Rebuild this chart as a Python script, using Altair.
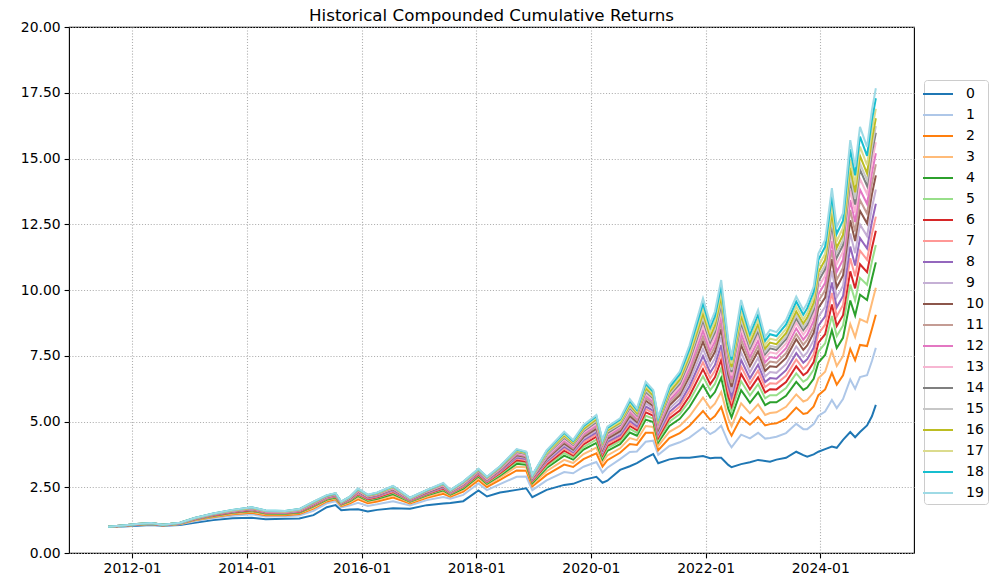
import altair as alt
import pandas as pd

dates = ["2011-08-01","2011-11-01","2012-02-01","2012-05-01","2012-07-15","2012-11-01","2013-02-01","2013-06-01","2013-10-01","2014-02-01",
         "2014-05-01","2014-09-01","2014-12-01","2015-03-01","2015-05-25","2015-07-20","2015-08-25","2015-10-20","2015-12-10","2016-02-10",
         "2016-04-10","2016-07-20","2016-11-05","2017-02-20","2017-06-05","2017-07-20","2017-10-10","2018-01-15","2018-03-10","2018-06-01",
         "2018-09-15","2018-11-15","2018-12-24","2019-03-25","2019-07-15","2019-09-10","2019-11-15","2020-02-05","2020-03-15","2020-04-15",
         "2020-07-05","2020-09-05","2020-10-20","2020-12-15","2021-02-01","2021-03-05","2021-05-15","2021-07-20","2021-09-20","2021-12-15",
         "2022-01-30","2022-03-01","2022-04-10","2022-05-25","2022-06-15","2022-08-15","2022-10-10","2022-12-01","2023-01-15","2023-02-15",
         "2023-03-28","2023-05-28","2023-08-01","2023-09-15","2023-10-10","2023-11-20","2023-12-20","2024-02-01","2024-03-15","2024-04-15",
         "2024-05-25","2024-07-10","2024-08-10","2024-09-10","2024-10-25","2024-11-25","2024-12-20"]

s0 = [1.00,1.01,1.04,1.06,1.04,1.06,1.15,1.25,1.32,1.34, 1.28,1.30,1.31,1.44,1.74,1.82,1.63,1.65,1.66,1.58,
      1.64,1.70,1.68,1.82,1.88,1.90,1.97,2.38,2.15,2.30, 2.40,2.46,2.12,2.40,2.59,2.63,2.78,2.90,2.67,2.75,
      3.16,3.30,3.42,3.62,3.76,3.41,3.56,3.62,3.62,3.69, 3.60,3.62,3.62,3.35,3.26,3.38,3.45,3.54,3.50,3.47,
      3.55,3.62,3.85,3.72,3.66,3.75,3.85,3.95,4.05,4.00, 4.30,4.60,4.40,4.60,4.85,5.20,5.63]
s1 = [1.00,1.02,1.06,1.09,1.05,1.09,1.21,1.33,1.42,1.47, 1.39,1.40,1.43,1.60,1.89,1.97,1.73,1.81,1.91,1.79,
      1.85,1.97,1.81,2.01,2.13,2.06,2.21,2.64,2.39,2.62, 2.90,2.91,2.39,2.76,3.08,3.03,3.28,3.46,3.06,3.24,
      3.57,3.84,3.86,4.23,4.27,3.73,4.07,4.21,4.39,4.77, 4.52,4.62,4.84,4.21,4.02,4.50,4.36,4.57,4.35,4.37,
      4.42,4.56,4.91,4.71,4.71,4.90,5.21,5.38,5.82,5.51, 5.85,6.60,6.25,6.69,6.76,7.30,7.80]
s2 = [1.00,1.03,1.07,1.10,1.05,1.10,1.24,1.37,1.47,1.53, 1.44,1.44,1.48,1.69,1.96,2.04,1.78,1.89,2.04,1.89,
      1.96,2.11,1.88,2.10,2.25,2.14,2.33,2.77,2.51,2.78, 3.14,3.13,2.53,2.97,3.36,3.27,3.57,3.79,3.29,3.53,
      3.81,4.14,4.11,4.57,4.57,3.91,4.37,4.56,4.84,5.40, 5.06,5.21,5.55,4.70,4.46,5.16,4.88,5.17,4.85,4.90,
      4.93,5.11,5.53,5.29,5.32,5.57,6.00,6.22,6.85,6.40, 6.76,7.76,7.33,7.91,7.87,8.52,9.06]
s3 = [1.00,1.03,1.07,1.11,1.06,1.11,1.25,1.39,1.50,1.57, 1.47,1.47,1.52,1.73,2.00,2.08,1.81,1.94,2.11,1.95,
      2.02,2.19,1.92,2.15,2.33,2.19,2.40,2.85,2.58,2.87, 3.28,3.26,2.61,3.11,3.54,3.42,3.76,4.01,3.44,3.71,
      3.98,4.37,4.29,4.83,4.79,4.07,4.61,4.83,5.20,5.91, 5.50,5.68,6.12,5.11,4.82,5.69,5.31,5.65,5.25,5.32,
      5.35,5.56,6.03,5.76,5.82,6.11,6.64,6.89,7.68,7.11, 7.49,8.71,8.21,8.89,8.77,9.51,10.09]
s4 = [1.00,1.04,1.08,1.11,1.06,1.12,1.27,1.41,1.53,1.60, 1.50,1.49,1.54,1.77,2.03,2.11,1.84,1.97,2.17,1.99,
      2.06,2.24,1.95,2.19,2.38,2.22,2.45,2.91,2.63,2.94, 3.39,3.36,2.66,3.23,3.70,3.55,3.93,4.19,3.57,3.88,
      4.14,4.58,4.46,5.07,4.98,4.21,4.83,5.10,5.55,6.39, 5.91,6.12,6.66,5.49,5.16,6.19,5.71,6.11,5.62,5.73,
      5.73,5.98,6.51,6.20,6.29,6.62,7.24,7.53,8.47,7.79, 8.18,9.60,9.03,9.82,9.62,10.44,11.05]
s5 = [1.00,1.04,1.08,1.12,1.06,1.12,1.27,1.42,1.54,1.62, 1.52,1.51,1.56,1.79,2.06,2.14,1.85,2.00,2.21,2.02,
      2.10,2.29,1.97,2.22,2.42,2.25,2.49,2.95,2.67,2.99, 3.47,3.43,2.71,3.30,3.80,3.63,4.03,4.31,3.65,3.98,
      4.25,4.72,4.57,5.22,5.11,4.30,4.99,5.28,5.78,6.72, 6.19,6.43,7.03,5.75,5.39,6.53,5.99,6.42,5.88,6.00,
      6.00,6.27,6.83,6.51,6.61,6.97,7.66,7.97,9.01,8.25, 8.65,10.21,9.60,10.46,10.20,11.08,11.71]
s6 = [1.00,1.04,1.08,1.12,1.06,1.13,1.28,1.43,1.55,1.63, 1.53,1.52,1.57,1.81,2.08,2.16,1.86,2.02,2.24,2.05,
      2.12,2.32,1.99,2.24,2.45,2.27,2.52,2.98,2.70,3.03, 3.53,3.48,2.74,3.37,3.89,3.71,4.13,4.42,3.72,4.07,
      4.34,4.83,4.67,5.35,5.22,4.38,5.12,5.42,5.97,6.99, 6.42,6.68,7.34,5.96,5.58,6.81,6.22,6.68,6.10,6.23,
      6.22,6.50,7.10,6.76,6.87,7.26,8.00,8.32,9.45,8.63, 9.04,10.71,10.06,10.98,10.68,11.60,12.25]
s7 = [1.00,1.04,1.09,1.12,1.06,1.13,1.29,1.44,1.57,1.65, 1.54,1.53,1.59,1.83,2.09,2.17,1.88,2.03,2.26,2.07,
      2.15,2.35,2.00,2.26,2.48,2.28,2.54,3.01,2.72,3.07, 3.59,3.53,2.77,3.43,3.97,3.77,4.21,4.51,3.79,4.15,
      4.41,4.93,4.75,5.47,5.32,4.46,5.24,5.57,6.17,7.25, 6.65,6.93,7.64,6.18,5.77,7.09,6.44,6.93,6.31,6.45,
      6.44,6.74,7.36,7.00,7.14,7.55,8.34,8.68,9.89,9.00, 9.43,11.21,10.52,11.50,11.15,12.13,12.79]
s8 = [1.00,1.04,1.09,1.12,1.06,1.13,1.29,1.45,1.57,1.66, 1.55,1.54,1.60,1.85,2.11,2.19,1.88,2.05,2.29,2.09,
      2.17,2.38,2.01,2.28,2.50,2.30,2.57,3.03,2.75,3.10, 3.63,3.57,2.80,3.48,4.04,3.83,4.29,4.59,3.84,4.23,
      4.48,5.02,4.82,5.57,5.41,4.53,5.36,5.70,6.34,7.49, 6.86,7.15,7.91,6.37,5.93,7.34,6.64,7.16,6.50,6.65,
      6.63,6.95,7.60,7.23,7.37,7.80,8.64,9.00,10.29,9.34, 9.77,11.65,10.93,11.97,11.58,12.59,13.28]
s9 = [1.00,1.04,1.09,1.13,1.07,1.13,1.30,1.46,1.58,1.67, 1.56,1.55,1.61,1.86,2.12,2.20,1.89,2.06,2.31,2.11,
      2.19,2.40,2.03,2.30,2.52,2.31,2.59,3.06,2.77,3.13, 3.68,3.62,2.82,3.53,4.11,3.88,4.35,4.66,3.89,4.29,
      4.56,5.12,4.91,5.69,5.51,4.61,5.48,5.85,6.53,7.76, 7.09,7.40,8.22,6.58,6.12,7.62,6.87,7.42,6.71,6.88,
      6.85,7.18,7.86,7.47,7.63,8.09,8.98,9.36,10.73,9.72, 10.16,12.15,11.40,12.49,12.05,13.12,13.82]
s10 = [1.00,1.04,1.09,1.13,1.07,1.14,1.30,1.46,1.59,1.68, 1.57,1.56,1.62,1.87,2.13,2.21,1.90,2.08,2.33,2.12,
       2.20,2.42,2.04,2.31,2.54,2.33,2.61,3.08,2.79,3.15, 3.72,3.65,2.84,3.57,4.17,3.93,4.41,4.73,3.94,4.35,
       4.63,5.21,4.98,5.79,5.59,4.69,5.61,6.00,6.72,8.03, 7.32,7.65,8.52,6.79,6.31,7.90,7.10,7.67,6.92,7.10,
       7.07,7.42,8.13,7.72,7.89,8.38,9.32,9.71,11.17,10.10, 10.55,12.65,11.86,13.01,12.53,13.64,14.36]
s11 = [1.00,1.05,1.09,1.13,1.07,1.14,1.31,1.47,1.60,1.69, 1.58,1.56,1.62,1.88,2.14,2.22,1.91,2.09,2.35,2.14,
       2.21,2.44,2.05,2.33,2.56,2.34,2.62,3.09,2.80,3.17, 3.75,3.68,2.86,3.62,4.23,3.98,4.47,4.80,3.99,4.41,
       4.70,5.30,5.05,5.89,5.68,4.76,5.71,6.11,6.87,8.24, 7.50,7.85,8.76,6.96,6.46,8.12,7.27,7.87,7.09,7.28,
       7.24,7.60,8.33,7.92,8.10,8.60,9.58,9.99,11.51,10.39, 10.85,13.04,12.22,13.42,12.90,14.05,14.78]
s12 = [1.00,1.05,1.09,1.13,1.07,1.14,1.31,1.47,1.61,1.70, 1.58,1.57,1.63,1.89,2.15,2.23,1.92,2.10,2.36,2.15,
       2.23,2.46,2.05,2.34,2.57,2.35,2.64,3.11,2.82,3.19, 3.78,3.71,2.88,3.65,4.28,4.02,4.53,4.86,4.03,4.46,
       4.76,5.38,5.12,5.98,5.75,4.82,5.81,6.23,7.02,8.45, 7.68,8.04,8.99,7.13,6.61,8.34,7.45,8.07,7.25,7.45,
       7.41,7.79,8.54,8.11,8.30,8.82,9.84,10.27,11.86,10.69, 11.15,13.42,12.58,13.82,13.27,14.45,15.20]
s13 = [1.00,1.05,1.10,1.13,1.07,1.14,1.31,1.48,1.61,1.70, 1.59,1.57,1.64,1.90,2.16,2.24,1.92,2.11,2.38,2.16,
       2.24,2.47,2.06,2.35,2.59,2.36,2.65,3.13,2.83,3.21, 3.81,3.73,2.89,3.69,4.33,4.07,4.58,4.92,4.07,4.51,
       4.82,5.45,5.18,6.06,5.82,4.88,5.91,6.34,7.17,8.66, 7.86,8.23,9.23,7.29,6.75,8.56,7.63,8.27,7.42,7.63,
       7.58,7.97,8.75,8.30,8.51,9.05,10.11,10.55,12.20,10.98, 11.46,13.81,12.94,14.23,13.64,14.86,15.62]
s14 = [1.00,1.05,1.10,1.13,1.07,1.14,1.32,1.48,1.62,1.71, 1.60,1.58,1.65,1.91,2.17,2.25,1.93,2.12,2.40,2.18,
       2.25,2.49,2.07,2.36,2.61,2.37,2.67,3.14,2.85,3.23, 3.84,3.76,2.91,3.73,4.38,4.11,4.63,4.98,4.11,4.56,
       4.87,5.52,5.23,6.13,5.88,4.93,5.99,6.44,7.30,8.84, 8.01,8.40,9.43,7.44,6.88,8.75,7.78,8.44,7.56,7.78,
       7.72,8.13,8.92,8.47,8.68,9.24,10.33,10.79,12.50,11.23, 11.71,14.15,13.25,14.58,13.96,15.21,15.98]
s15 = [1.00,1.05,1.10,1.14,1.07,1.15,1.32,1.49,1.62,1.72, 1.60,1.58,1.65,1.92,2.18,2.26,1.93,2.12,2.41,2.19,
       2.26,2.50,2.08,2.37,2.62,2.37,2.68,3.16,2.86,3.25, 3.87,3.78,2.92,3.76,4.42,4.14,4.67,5.03,4.15,4.61,
       4.90,5.57,5.27,6.19,5.93,4.97,6.05,6.51,7.39,8.96, 8.11,8.51,9.57,7.53,6.97,8.87,7.88,8.56,7.65,7.88,
       7.82,8.23,9.04,8.58,8.80,9.36,10.49,10.95,12.69,11.40, 11.89,14.37,13.46,14.81,14.17,15.44,16.23]
s16 = [1.00,1.05,1.10,1.14,1.07,1.15,1.32,1.49,1.63,1.72, 1.61,1.59,1.66,1.93,2.18,2.26,1.94,2.13,2.42,2.19,
       2.27,2.52,2.08,2.38,2.63,2.38,2.69,3.17,2.87,3.26, 3.89,3.80,2.94,3.80,4.47,4.18,4.72,5.09,4.19,4.66,
       4.95,5.63,5.32,6.26,5.99,5.01,6.12,6.59,7.49,9.11, 8.24,8.65,9.74,7.65,7.07,9.03,8.00,8.70,7.77,8.00,
       7.94,8.36,9.19,8.72,8.95,9.52,10.67,11.15,12.94,11.61, 12.10,14.65,13.71,15.10,14.43,15.73,16.53]
s17 = [1.00,1.05,1.10,1.14,1.07,1.15,1.33,1.49,1.63,1.73, 1.61,1.59,1.66,1.94,2.19,2.27,1.94,2.14,2.43,2.20,
       2.28,2.53,2.09,2.39,2.64,2.39,2.70,3.18,2.88,3.28, 3.91,3.83,2.95,3.83,4.52,4.23,4.78,5.14,4.23,4.71,
       5.01,5.71,5.39,6.35,6.07,5.07,6.21,6.69,7.62,9.29, 8.40,8.82,9.94,7.79,7.20,9.21,8.15,8.87,7.91,8.15,
       8.09,8.52,9.37,8.88,9.12,9.72,10.90,11.38,13.23,11.86, 12.36,14.98,14.02,15.45,14.75,16.08,16.89]
s18 = [1.00,1.05,1.10,1.14,1.07,1.15,1.33,1.50,1.64,1.74, 1.62,1.60,1.67,1.94,2.19,2.27,1.95,2.14,2.44,2.21,
       2.29,2.54,2.10,2.39,2.65,2.39,2.71,3.19,2.89,3.29, 3.93,3.84,2.96,3.87,4.57,4.26,4.82,5.20,4.26,4.76,
       5.07,5.78,5.44,6.43,6.13,5.12,6.30,6.80,7.76,9.49, 8.57,9.00,10.16,7.95,7.34,9.42,8.32,9.06,8.07,8.32,
       8.25,8.69,9.56,9.06,9.31,9.93,11.15,11.65,13.56,12.14, 12.64,15.35,14.36,15.83,15.10,16.47,17.29]
s19 = [1.00,1.05,1.10,1.14,1.07,1.15,1.33,1.50,1.64,1.74, 1.62,1.60,1.67,1.95,2.20,2.28,1.95,2.15,2.45,2.22,
       2.30,2.55,2.10,2.40,2.66,2.40,2.72,3.20,2.90,3.30, 3.95,3.86,2.97,3.90,4.61,4.30,4.87,5.25,4.30,4.80,
       5.12,5.85,5.50,6.51,6.20,5.18,6.39,6.90,7.90,9.68, 8.73,9.18,10.38,8.10,7.47,9.62,8.48,9.24,8.22,8.48,
       8.40,8.86,9.75,9.24,9.50,10.13,11.39,11.90,13.87,12.41, 12.92,15.70,14.69,16.20,15.44,16.84,17.67]

series_values = [s0, s1, s2, s3, s4, s5, s6, s7, s8, s9,
                 s10, s11, s12, s13, s14, s15, s16, s17, s18, s19]
names = [str(i) for i in range(20)]
colors = ["#1f77b4", "#aec7e8", "#ff7f0e", "#ffbb78", "#2ca02c", "#98df8a",
          "#d62728", "#ff9896", "#9467bd", "#c5b0d5", "#8c564b", "#c49c94",
          "#e377c2", "#f7b6d2", "#7f7f7f", "#c7c7c7", "#bcbd22", "#dbdb8d",
          "#17becf", "#9edae5"]
y_ticks = [0, 2.5, 5, 7.5, 10, 12.5, 15, 17.5, 20]
x_tick_years = [2012, 2014, 2016, 2018, 2020, 2022, 2024]

rows = []
for name, vals in zip(names, series_values):
    for d, v in zip(dates, vals):
        rows.append({"date": d, "value": v, "series": name})
df = pd.DataFrame(rows)

x_ticks = [alt.DateTime(year=y, month=1, date=1) for y in x_tick_years]

chart = alt.Chart(df).mark_line(strokeWidth=2).encode(
    x=alt.X("date:T",
            scale=alt.Scale(domain=[alt.DateTime(year=2010, month=11, date=25),
                                    alt.DateTime(year=2025, month=8, date=20)]),
            axis=alt.Axis(values=x_ticks, format="%Y-%m", title=None)),
    y=alt.Y("value:Q",
            scale=alt.Scale(domain=[0, 20], nice=False),
            axis=alt.Axis(values=y_ticks, format=".2f", title=None)),
    color=alt.Color("series:N",
                    scale=alt.Scale(domain=names, range=colors),
                    legend=alt.Legend(title=None, orient="none", legendX=855, legendY=53,
                                      symbolType="M-1.667,0H1.667", symbolSize=324,
                                      symbolStrokeWidth=2, labelFontSize=14,
                                      labelFont="DejaVu Sans", labelColor="black",
                                      labelOffset=18, rowPadding=4, padding=4,
                                      strokeColor="#cccccc", fillColor="white",
                                      cornerRadius=3)),
).properties(
    width=845, height=526,
    title=alt.TitleParams("Historical Compounded Cumulative Returns", fontSize=16.7,
                          fontWeight="normal", font="DejaVu Sans", anchor="middle",
                          offset=-5, color="black"),
    padding={"left": 61, "top": 19, "right": 86, "bottom": 27},
    autosize=alt.AutoSizeParams(type="none"),
).configure(font="DejaVu Sans").configure_axis(
    labelFont="DejaVu Sans", labelFontSize=13.9, labelColor="black",
    tickColor="black", tickSize=4.9, tickWidth=1.1, domain=False,
    gridColor="#b0b0b0", gridDash=[1.1, 1.8], gridWidth=1.1, labelPadding=4,
).configure_view(stroke="black", strokeWidth=1.1)

chart.save("out.html", embed_options={"renderer": "svg", "actions": False})
